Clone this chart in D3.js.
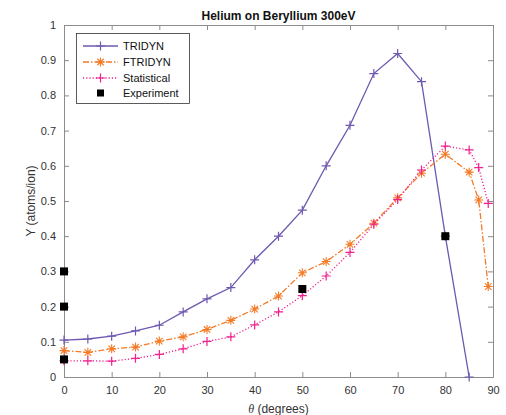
<!DOCTYPE html>
<html>
<head>
<meta charset="utf-8">
<script src="https://cdn.jsdelivr.net/npm/d3@7"></script>
<style>
  body { margin: 0; background: #fff; }
  svg { font-family: "Liberation Sans", Arial, sans-serif; }
</style>
</head>
<body>
<div id="chart"></div>
<script>
// Sputtering yield of helium on beryllium at 300 eV

// angles (degrees)
const anglesMain = [0, 5, 10, 15, 20, 25, 30, 35, 40, 45, 50, 55, 60, 65, 70, 75, 80, 85];
const anglesEdge = [0, 5, 10, 15, 20, 25, 30, 35, 40, 45, 50, 55, 60, 65, 70, 75, 80, 85, 87, 89];

// yields (atoms/ion)
const tridyn = [0.105, 0.108, 0.116, 0.131, 0.147, 0.185, 0.222, 0.254, 0.333, 0.400,
                0.474, 0.600, 0.715, 0.862, 0.919, 0.839, 0.400, 0.0];
const ftridyn = [0.075, 0.070, 0.080, 0.085, 0.102, 0.114, 0.135, 0.161, 0.193, 0.230,
                 0.296, 0.328, 0.377, 0.437, 0.509, 0.579, 0.633, 0.582, 0.503, 0.257];
const statistical = [0.046, 0.046, 0.045, 0.053, 0.064, 0.080, 0.101, 0.114, 0.148, 0.185,
                     0.231, 0.287, 0.354, 0.434, 0.504, 0.588, 0.656, 0.645, 0.595, 0.493];
const expAngles = [0, 0, 0, 50, 80];
const expYield = [0.30, 0.20, 0.05, 0.25, 0.40];

const xTicks = [0, 10, 20, 30, 40, 50, 60, 70, 80, 90];
const yTicks = [0, 0.1, 0.2, 0.3, 0.4, 0.5, 0.6, 0.7, 0.8, 0.9, 1];

const W = 506, H = 415;
const m = { left: 64, right: 13, top: 25, bottom: 38 };

const svg = d3.select("#chart").append("svg")
  .attr("width", W).attr("height", H);

const x = d3.scaleLinear().domain([0, 90]).range([m.left, W - m.right]);
const y = d3.scaleLinear().domain([0, 1]).range([H - m.bottom, m.top]);

const axisCol = "#8c8c8c";
const textCol = "#333";
const tick = 5;

// axes with inward ticks on all four sides
function styleAxis(g) {
  g.select(".domain").attr("stroke", axisCol);
  g.selectAll(".tick line").attr("stroke", axisCol);
  g.selectAll(".tick text").attr("fill", textCol).attr("font-size", 11);
}

svg.append("g").attr("transform", `translate(0,${y(0)})`)
  .call(d3.axisBottom(x).tickValues(xTicks).tickSizeInner(-tick).tickSizeOuter(0).tickPadding(9))
  .call(styleAxis);
svg.append("g").attr("transform", `translate(0,${y(1)})`)
  .call(d3.axisTop(x).tickValues(xTicks).tickSizeInner(-tick).tickSizeOuter(0).tickFormat(""))
  .call(styleAxis);
svg.append("g").attr("transform", `translate(${x(0)},0)`)
  .call(d3.axisLeft(y).tickValues(yTicks).tickSizeInner(-tick).tickSizeOuter(0).tickPadding(8)
    .tickFormat(d => d === 0 || d === 1 ? d3.format("d")(d) : d3.format(".1f")(d)))
  .call(styleAxis);
svg.append("g").attr("transform", `translate(${x(90)},0)`)
  .call(d3.axisRight(y).tickValues(yTicks).tickSizeInner(-tick).tickSizeOuter(0).tickFormat(""))
  .call(styleAxis);

// title and labels
svg.append("text").attr("x", (x(0) + x(90)) / 2).attr("y", 20)
  .attr("text-anchor", "middle").attr("font-weight", "bold").attr("font-size", 12)
  .attr("fill", "#111").text("Helium on Beryllium 300eV");

const xl = svg.append("text").attr("x", (x(0) + x(90)) / 2).attr("y", 413)
  .attr("text-anchor", "middle").attr("font-size", 12).attr("fill", textCol);
xl.append("tspan").attr("font-family", "'Liberation Serif', serif").attr("font-style", "italic").text("θ");
xl.append("tspan").text(" (degrees)");

svg.append("text")
  .attr("transform", `translate(35,${(y(0) + y(1)) / 2}) rotate(-90)`)
  .attr("text-anchor", "middle").attr("font-size", 12).attr("fill", textCol)
  .text("Y (atoms/ion)");

// marker shapes
function plus(g, cx, cy, col, s) {
  g.append("path")
    .attr("d", `M${cx - s},${cy}H${cx + s}M${cx},${cy - s}V${cy + s}`)
    .attr("stroke", col).attr("stroke-width", 1.2).attr("fill", "none");
}
function star(g, cx, cy, col, s) {
  const d = s * 0.72;
  g.append("path")
    .attr("d", `M${cx - s},${cy}H${cx + s}M${cx},${cy - s}V${cy + s}` +
               `M${cx - d},${cy - d}L${cx + d},${cy + d}M${cx - d},${cy + d}L${cx + d},${cy - d}`)
    .attr("stroke", col).attr("stroke-width", 1.1).attr("fill", "none");
}
function square(g, cx, cy, col, s) {
  g.append("rect").attr("x", cx - s).attr("y", cy - s)
    .attr("width", 2 * s).attr("height", 2 * s).attr("fill", col);
}

const series = [
  { name: "TRIDYN", xs: anglesMain, ys: tridyn, color: "#6e58b0", dash: null, width: 1.3, marker: plus, ms: 4.5 },
  { name: "FTRIDYN", xs: anglesEdge, ys: ftridyn, color: "#f47a26", dash: "6,2,1.5,2", width: 1.3, marker: star, ms: 4.5 },
  { name: "Statistical", xs: anglesEdge, ys: statistical, color: "#f0208f", dash: "1.2,2", width: 1.3, marker: plus, ms: 4.5 }
];

const line = d3.line().x(d => x(d[0])).y(d => y(d[1]));
const plot = svg.append("g");

series.forEach(s => {
  const pts = s.xs.map((a, i) => [a, s.ys[i]]);
  plot.append("path").datum(pts).attr("d", line)
    .attr("fill", "none").attr("stroke", s.color).attr("stroke-width", s.width)
    .attr("stroke-dasharray", s.dash);
  pts.forEach(p => s.marker(plot, x(p[0]), y(p[1]), s.color, s.ms));
});

expAngles.forEach((a, i) => square(plot, x(a), y(expYield[i]), "#000", 4));

// legend
const lg = svg.append("g");
lg.append("rect").attr("x", 76.5).attr("y", 33.5).attr("width", 113).attr("height", 70)
  .attr("fill", "#fff").attr("stroke", "#333").attr("stroke-width", 0.8);
const rows = [46, 62, 78, 93];
series.forEach((s, i) => {
  lg.append("line").attr("x1", 83).attr("x2", 118).attr("y1", rows[i]).attr("y2", rows[i])
    .attr("stroke", s.color).attr("stroke-width", s.width).attr("stroke-dasharray", s.dash);
  s.marker(lg, 100.5, rows[i], s.color, s.ms);
  lg.append("text").attr("x", 123).attr("y", rows[i] + 4).attr("font-size", 11)
    .attr("fill", "#111").text(s.name);
});
square(lg, 100.5, rows[3], "#000", 3.5);
lg.append("text").attr("x", 123).attr("y", rows[3] + 4).attr("font-size", 11)
  .attr("fill", "#111").text("Experiment");
</script>
</body>
</html>
